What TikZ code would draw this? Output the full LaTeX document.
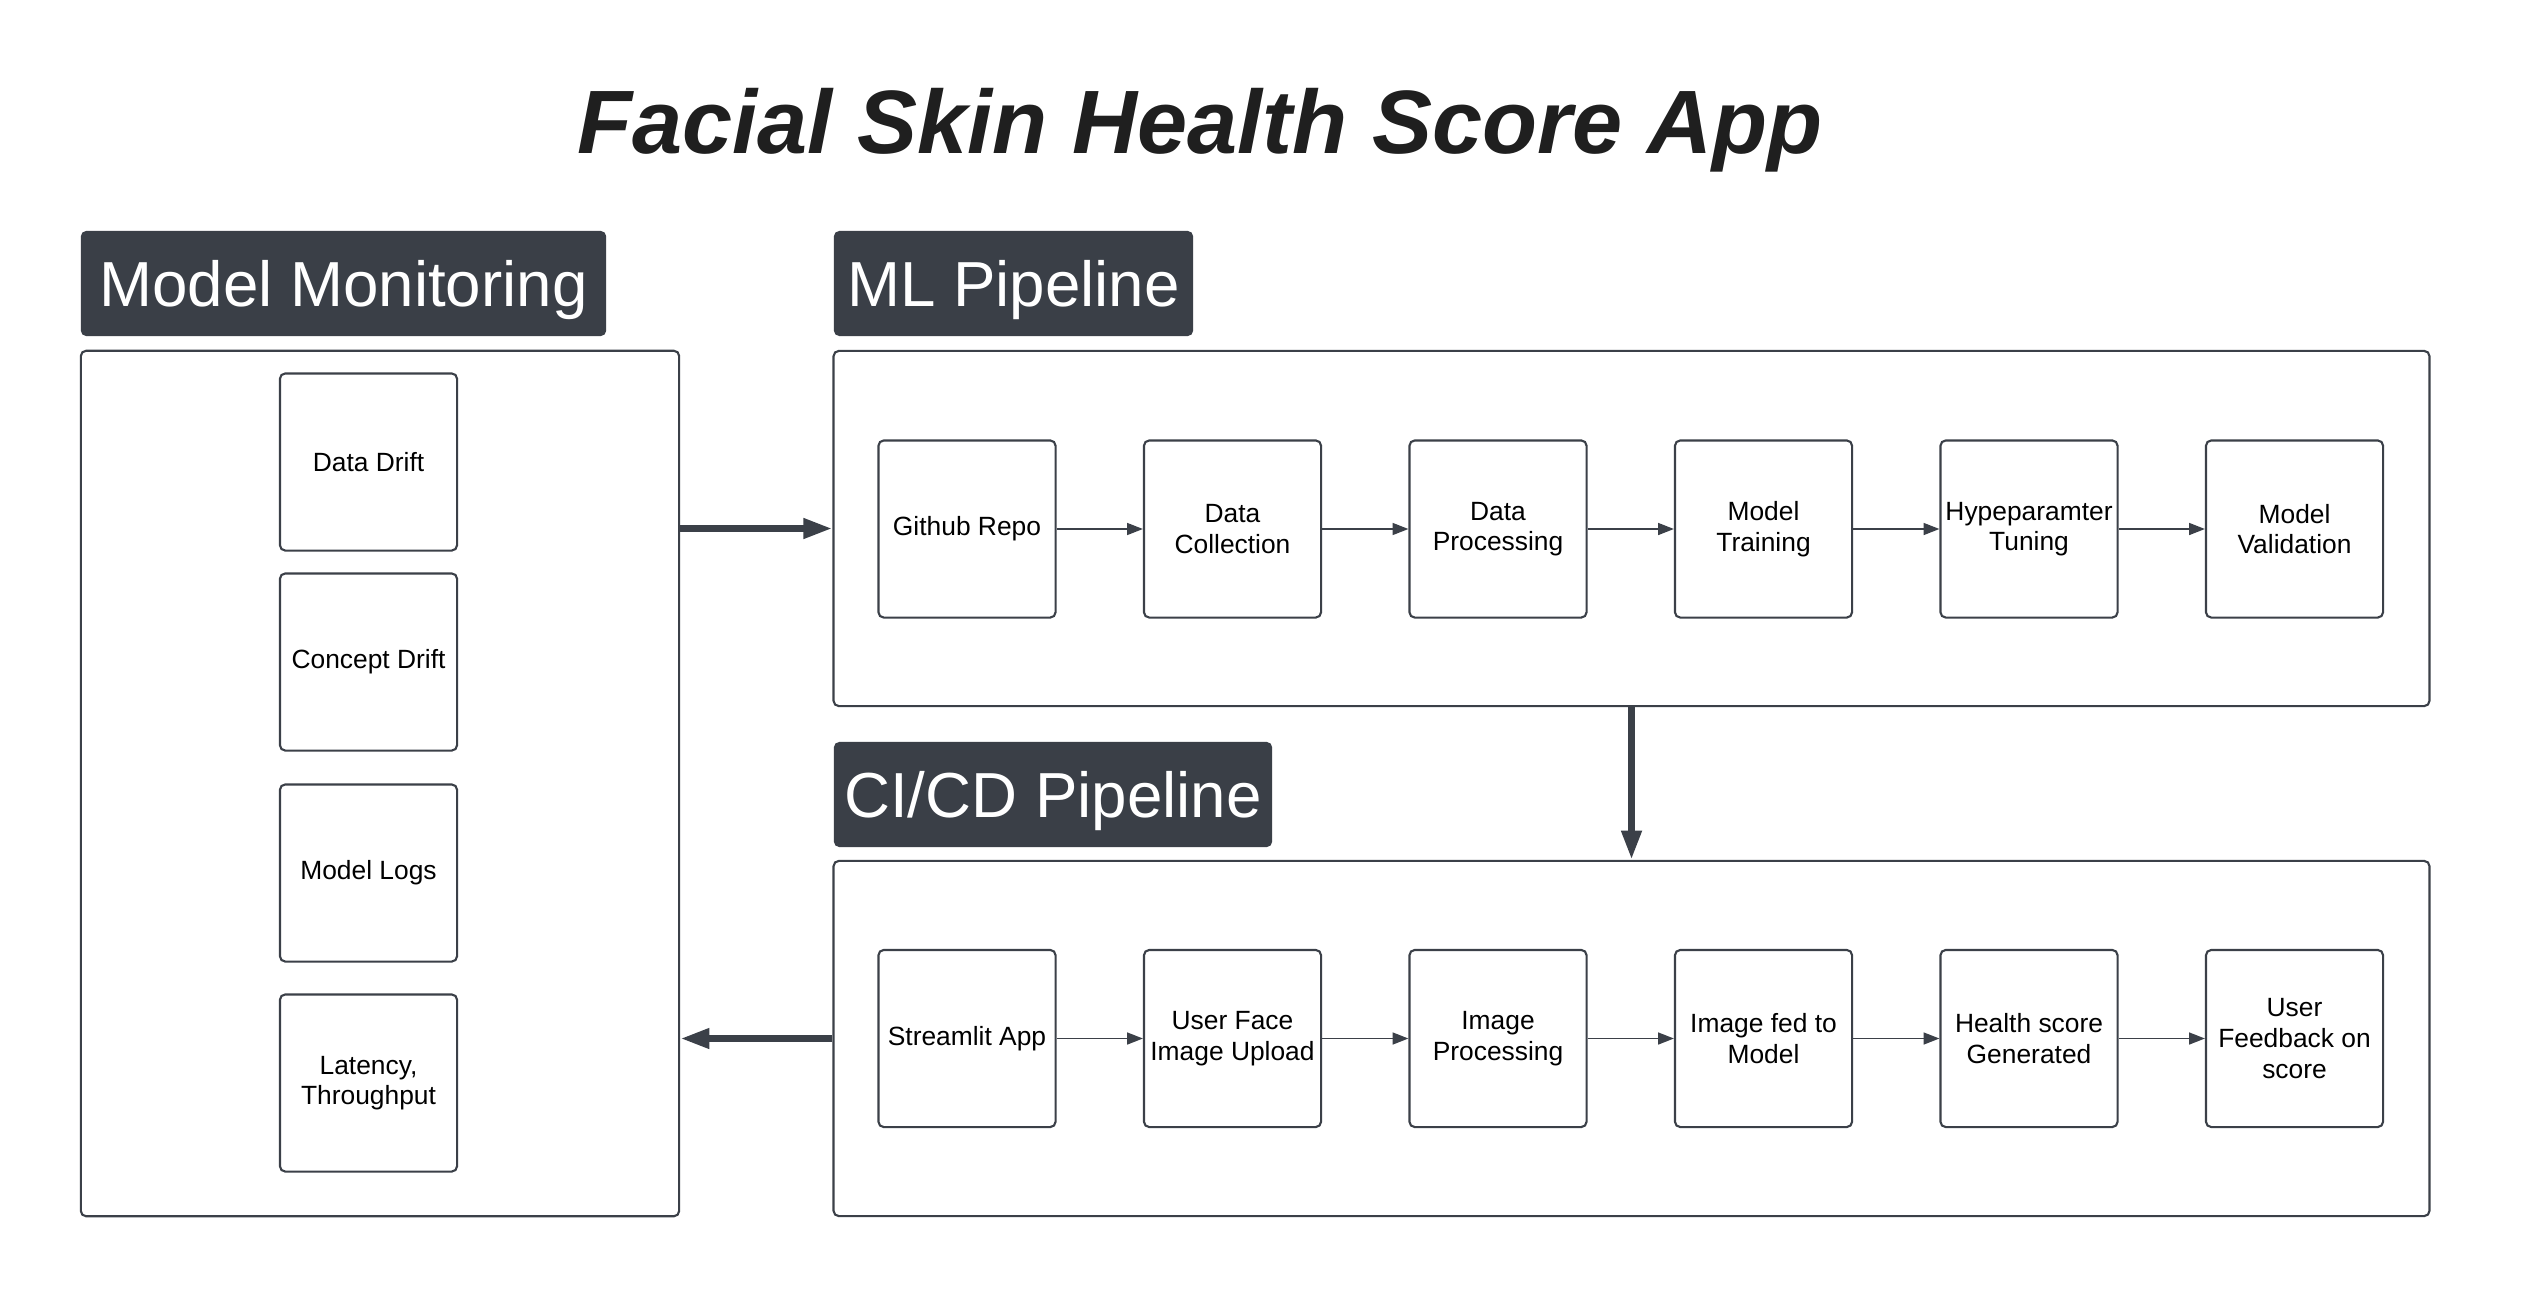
\documentclass[tikz,border=0pt]{standalone}
\usepackage{fontspec}
\setmainfont{Liberation Sans}
\usetikzlibrary{arrows.meta}

\definecolor{ink}{HTML}{3B4048}
\definecolor{headfill}{HTML}{3A3F47}

\def \stageSize {1.77cm}
\def \edgeWidth {0.6pt}

\begin{document}
\begin{tikzpicture}[x=0.01cm,y=-0.01cm,
   stage/.style={draw=ink, line width=\edgeWidth, rounded corners=1.5pt, minimum width=\stageSize, minimum height=\stageSize, inner sep=1pt, align=center, font=\fontsize{7.5}{8.7}\selectfont},
   lane/.style={draw=ink, line width=\edgeWidth, rounded corners=1.5pt, inner sep=0pt},
   lanetitle/.style={fill=headfill, rounded corners=1.5pt, text=white, inner sep=0pt, minimum height=1.05cm, font=\fontsize{18.1}{21}\selectfont, text height=13pt, text depth=0pt},
   flow/.style={draw=ink, line width=0.45pt, -{Triangle[length=4.5pt,width=3.4pt]}},
   bigflow/.style={draw=ink, line width=2pt, -{Triangle[length=8.3pt,width=5.4pt]}}]
         \fill[white] (0,0) rectangle (2534,1294);
         \useasboundingbox (0,0) rectangle (2534,1294);

         \node[anchor=base, font=\fontsize{25.6}{30}\selectfont\bfseries\itshape, text=black!88] (title) at (1200,154) {Facial Skin Health Score App};

         % lanes
         \node[lane, minimum width=5.98cm, minimum height=8.65cm] (monitor) at (380,783.5) {};
         \node[lane, minimum width=15.95cm, minimum height=3.55cm] (mlpipe) at (1631.5,528.5) {};
         \node[lane, minimum width=15.95cm, minimum height=3.55cm] (cicd) at (1631.5,1038.5) {};

         \node[lanetitle, minimum width=5.25cm] (monitorTitle) at (343.5,283.5) {Model Monitoring};
         \node[lanetitle, minimum width=3.59cm] (mlpipeTitle) at (1013.5,283.5) {ML Pipeline};
         \node[lanetitle, minimum width=4.38cm] (cicdTitle) at (1053,794.5) {CI/CD Pipeline};

         % monitoring
         \node[stage] (dataDrift) at (368.5,462) {Data Drift};
         \node[stage] (conceptDrift) at (368.5,662) {Concept Drift};
         \node[stage] (modelLogs) at (368.5,873) {Model Logs};
         \node[stage] (latency) at (368.5,1083) {Latency,\\Throughput};

         % ml pipeline
         \node[stage] (github) at (967,529) {Github Repo};
         \node[stage] (collect) at (1232.5,529) {Data\\Collection};
         \node[stage] (process) at (1498,529) {Data\\Processing};
         \node[stage] (train) at (1763.5,529) {Model\\Training};
         \node[stage] (tune) at (2029,529) {Hypeparamter\\Tuning};
         \node[stage] (validate) at (2294.5,529) {Model\\Validation};

         % ci/cd pipeline
         \node[stage] (streamlit) at (967,1038.5) {Streamlit App};
         \node[stage] (upload) at (1232.5,1038.5) {User Face\\Image Upload};
         \node[stage] (imageProc) at (1498,1038.5) {Image\\Processing};
         \node[stage] (fed) at (1763.5,1038.5) {Image fed to\\Model};
         \node[stage] (score) at (2029,1038.5) {Health score\\Generated};
         \node[stage] (feedback) at (2294.5,1038.5) {User\\Feedback on\\score};

         \draw[flow] (github) -- (collect);
         \draw[flow] (collect) -- (process);
         \draw[flow] (process) -- (train);
         \draw[flow] (train) -- (tune);
         \draw[flow] (tune) -- (validate);

         \draw[flow] (streamlit) -- (upload);
         \draw[flow] (upload) -- (imageProc);
         \draw[flow] (imageProc) -- (fed);
         \draw[flow] (fed) -- (score);
         \draw[flow] (score) -- (feedback);

         \draw[bigflow] (monitor.east |- mlpipe.west) -- (mlpipe.west);
         \draw[bigflow] (mlpipe.south) -- (cicd.north);
         \draw[bigflow] (cicd.west) -- (monitor.east |- cicd.west);
      \end{tikzpicture}
\end{document}
